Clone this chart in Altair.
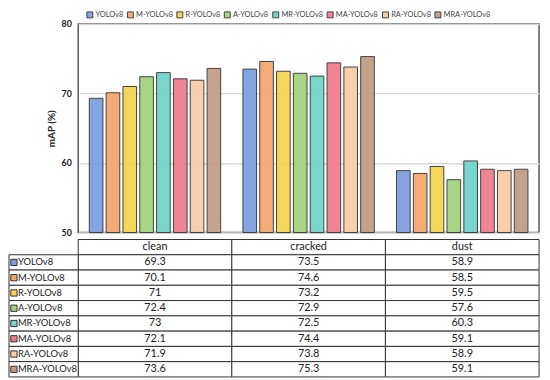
import altair as alt
import pandas as pd

models = ["YOLOv8", "M-YOLOv8", "R-YOLOv8", "A-YOLOv8", "MR-YOLOv8", "MA-YOLOv8", "RA-YOLOv8", "MRA-YOLOv8"]
categories = ["clean", "cracked", "dust"]
clean = [69.3, 70.1, 71, 72.4, 73, 72.1, 71.9, 73.6]
cracked = [73.5, 74.6, 73.2, 72.9, 72.5, 74.4, 73.8, 75.3]
dust = [58.9, 58.5, 59.5, 57.6, 60.3, 59.1, 58.9, 59.1]
colors = ["#7b9de0", "#f4a56c", "#f6d24e", "#a1d27a", "#6dd3c8", "#ee7b8a", "#f9caa3", "#c19c82"]

FONT = "Lato"
W = 466
H_PLOT = 211
H_TAB = 139
LW = 70

rows = []
for cat, vals in zip(categories, [clean, cracked, dust]):
    for m, v in zip(models, vals):
        rows.append({"category": cat, "model": m, "value": v, "label": f"{v:g}"})
df = pd.DataFrame(rows)

xscale = alt.Scale(domain=categories, paddingInner=0, paddingOuter=0)
color = alt.Color(
    "model:N",
    scale=alt.Scale(domain=models, range=colors),
    legend=alt.Legend(
        orient="none", legendX=8, legendY=-13, direction="horizontal", columns=8,
        title=None, symbolType="square", symbolSize=36,
        symbolStrokeColor="#333333", symbolStrokeWidth=1, labelFont=FONT,
        labelFontSize=7.5, labelColor="#444444", columnPadding=1, labelOffset=2,
    ),
)

bars = alt.Chart(df).mark_bar(stroke="#333333", strokeWidth=1, opacity=0.92).encode(
    x=alt.X("category:N", scale=xscale, axis=None, sort=categories),
    xOffset=alt.XOffset("model:N", sort=models,
                        scale=alt.Scale(domain=models, paddingInner=0.19, paddingOuter=0.66)),
    y=alt.Y("value:Q", scale=alt.Scale(domain=[50, 80], zero=False),
            axis=alt.Axis(values=[50, 60, 70, 80], title="mAP (%)", titleFont=FONT,
                          titleFontSize=10, titleFontWeight="bold", titleColor="#222222",
                          labelFont=FONT, labelFontSize=9, labelFontWeight="bold",
                          labelColor="#222222", domain=False, ticks=False, labelPadding=7,
                          gridColor="#d9d9d9", gridWidth=1.5, titlePadding=5)),
    y2=alt.datum(50),
    color=color,
).properties(width=W, height=H_PLOT, view=alt.ViewBackground(stroke="#595959", strokeWidth=1.5))

# table
row_domain = ["__header__"] + models
tab_rows = []
for cat, vals in zip(categories, [clean, cracked, dust]):
    tab_rows.append({"category": cat, "row": "__header__", "text": cat})
    for m, v in zip(models, vals):
        tab_rows.append({"category": cat, "row": m, "text": f"{v:g}"})
tdf = pd.DataFrame(tab_rows)
ldf = pd.DataFrame({"row": models, "model": models})

yscale = alt.Scale(domain=row_domain, paddingInner=0, paddingOuter=0)
ycell = alt.Y("row:N", scale=yscale, axis=None, sort=row_domain)

cells = alt.Chart(tdf).mark_rect(fill="white", stroke="#333333", strokeWidth=1).encode(
    x=alt.X("category:N", scale=xscale, axis=None, sort=categories), y=ycell)
texts = alt.Chart(tdf).mark_text(font=FONT, fontSize=11, color="#222222").encode(
    x=alt.X("category:N", scale=xscale, axis=None, sort=categories), y=ycell, text="text:N")
lcells = alt.Chart(ldf).mark_rect(fill="white", stroke="#333333", strokeWidth=1).encode(
    x=alt.value(-LW), x2=alt.value(0), y=ycell)
lsq = alt.Chart(ldf).mark_square(size=40, stroke="#333333", strokeWidth=1, opacity=1).encode(
    x=alt.value(-LW + 5), y=ycell,
    color=alt.Color("model:N", scale=alt.Scale(domain=models, range=colors), legend=None))
ltext = alt.Chart(ldf).mark_text(font=FONT, fontSize=9.5, color="#222222", align="left").encode(
    x=alt.value(-LW + 9), y=ycell, text="model:N")

table = alt.layer(cells, texts, lcells, lsq, ltext).properties(
    width=W, height=H_TAB, view=alt.ViewBackground(stroke=None))

chart = alt.vconcat(bars, table, spacing=0).resolve_scale(color="independent").properties(
    padding={"left": 0, "top": 0, "right": 2, "bottom": 0}
).configure_view(stroke=None)

chart.save("out.html", embed_options={"renderer": "svg", "actions": False})
